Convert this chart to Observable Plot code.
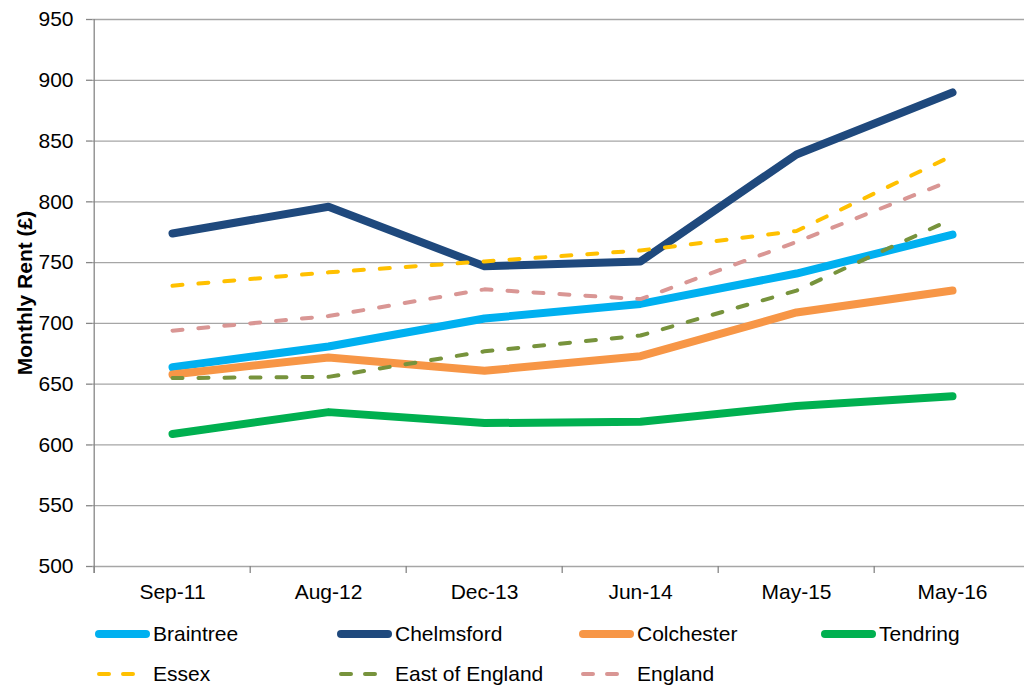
<!DOCTYPE html>
<html><head><meta charset="utf-8">
<script src="https://cdn.jsdelivr.net/npm/d3@7"></script>
<script src="https://cdn.jsdelivr.net/npm/@observablehq/plot@0.6"></script>
<style>
html,body{margin:0;padding:0;background:#fff;overflow:hidden;width:1024px;height:685px}
#wrap{position:relative;width:1040px;height:685px;font-family:"Liberation Sans",Arial,sans-serif}
.leg{position:absolute;display:flex;align-items:center;height:26px;font-size:21px;color:#000;white-space:nowrap}
.leg svg{display:block;flex:none}
</style></head><body><div id="wrap"><div id="chart"></div><div id="legend"></div></div>
<script>
const periods = ["Sep-11", "Aug-12", "Dec-13", "Jun-14", "May-15", "May-16"];
const braintree     = [664, 681, 704, 716, 741, 773];
const chelmsford    = [774, 796, 747, 751, 839, 890];
const colchester    = [658, 672, 661, 673, 709, 727];
const tendring      = [609, 627, 618, 619, 632, 640];
const essex         = [731, 742, 751, 760, 776, 838];
const eastOfEngland = [655, 656, 677, 690, 727, 786];
const england       = [694, 706, 728, 720, 767, 818];
const yTicks = [500, 550, 600, 650, 700, 750, 800, 850, 900, 950];
const seriesNames = ["Braintree", "Chelmsford", "Colchester", "Tendring", "Essex", "East of England", "England"];
const seriesValues = [braintree, chelmsford, colchester, tendring, essex, eastOfEngland, england];
const seriesColors = ["#00b0f0", "#1f497d", "#f79646", "#00b050", "#ffc000", "#77933c", "#d99694"];
const dashedSeries = ["Essex", "East of England", "England"];
const yTitle = "Monthly Rent (£)";

const data = seriesNames.flatMap((name, i) =>
  periods.map((p, j) => ({series: name, period: p, value: seriesValues[i][j]})));
const solid = data.filter(d => !dashedSeries.includes(d.series));
const dashed = data.filter(d => dashedSeries.includes(d.series));

const W = 1040, H = 610, ML = 92, MR = 8.4, MT = 19, MB = 44;
const step = (W - ML - MR) / periods.length;
const axisGray = "#868686";

const chart = Plot.plot({
  width: W, height: H,
  marginLeft: ML, marginRight: MR, marginTop: MT, marginBottom: MB,
  style: {fontFamily: "'Liberation Sans', Arial, sans-serif", fontSize: "21px", color: "#000", background: "#fff"},
  x: {type: "point", domain: periods, padding: 0.5},
  y: {domain: [500, 950]},
  color: {domain: seriesNames, range: seriesColors},
  marks: [
    Plot.gridY(yTicks, {stroke: "#a6a6a6", strokeOpacity: 1, strokeWidth: 1.3}),
    Plot.ruleX([periods[0]], {dx: -step / 2, stroke: axisGray, strokeWidth: 1.3, insetBottom: -7}),
    Plot.axisX({ticks: periods, tickSize: 7, dx: -step / 2, tickFormat: () => "", stroke: axisGray, strokeWidth: 1.3, label: null}),
    Plot.axisX({ticks: periods, tickSize: 0, tickPadding: 18, fill: "#000", label: null}),
    Plot.axisY({ticks: yTicks, tickSize: 6, tickPadding: 13, stroke: axisGray, strokeWidth: 1.3, fill: "#000", label: null}),
    Plot.text([yTitle], {frameAnchor: "left", textAnchor: "middle", rotate: -90, dx: -67, fontWeight: "bold", fontSize: 21, fill: "#000"}),
    Plot.lineY(solid, {x: "period", y: "value", z: "series", stroke: "series", strokeWidth: 8, strokeLinecap: "round", strokeLinejoin: "round"}),
    Plot.lineY(dashed, {x: "period", y: "value", z: "series", stroke: "series", strokeWidth: 4, strokeLinecap: "round", strokeLinejoin: "round", strokeDasharray: "10,16"})
  ]
});
document.getElementById("chart").appendChild(chart);

// Legend (two rows, four columns)
const legend = document.getElementById("legend");
const ns = "http://www.w3.org/2000/svg";
seriesNames.forEach((name, i) => {
  const isDashed = dashedSeries.includes(name);
  const col = i < 4 ? i : i - 4;
  const row = i < 4 ? 0 : 1;
  const item = document.createElement("div");
  item.className = "leg";
  item.style.left = (95 + col * 242) + "px";
  item.style.top = (634 + row * 40 - 13) + "px";
  const svg = document.createElementNS(ns, "svg");
  svg.setAttribute("width", 58);
  svg.setAttribute("height", 12);
  const ln = document.createElementNS(ns, "line");
  ln.setAttribute("y1", 6); ln.setAttribute("y2", 6);
  ln.setAttribute("x1", 4);
  ln.setAttribute("x2", isDashed ? 38 : 51);
  ln.setAttribute("stroke", seriesColors[i]);
  ln.setAttribute("stroke-width", isDashed ? 4 : 8);
  ln.setAttribute("stroke-linecap", "round");
  if (isDashed) ln.setAttribute("stroke-dasharray", "10,14");
  svg.appendChild(ln);
  item.appendChild(svg);
  const span = document.createElement("span");
  span.textContent = name;
  item.appendChild(span);
  legend.appendChild(item);
});
</script>
</body></html>
